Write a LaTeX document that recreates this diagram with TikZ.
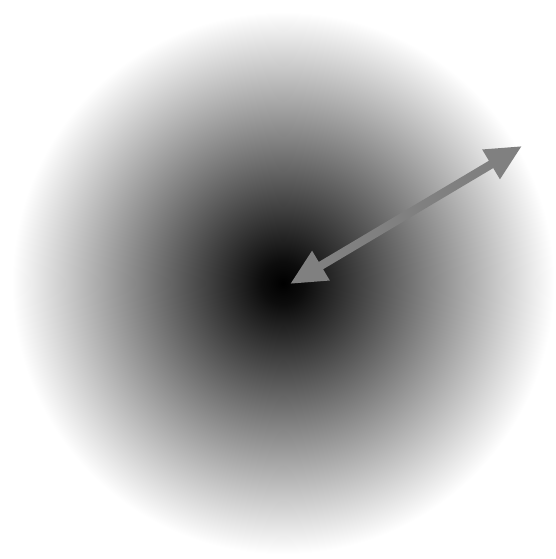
\documentclass[tikz,border=0pt]{standalone}
\usepackage{tikz}
\usetikzlibrary{positioning,arrows.meta}
\pgfdeclareradialshading{glow}{\pgfpoint{0bp}{0bp}}{color(0bp)=(black); color(2bp)=(black!95); color(25bp)=(white); color(50bp)=(white)}
\definecolor{arrowgray}{HTML}{808080}

\begin{document}
\begin{tikzpicture}[
    x=1pt, y=-1pt,
    radius arrow/.style={
        draw=arrowgray,
        fill=arrowgray,
        line width=8.5pt,
        {Triangle[length=36pt,width=32pt]}-{Triangle[length=36pt,width=32pt]}
    }
]

% Frame
\useasboundingbox (0,0) rectangle (555,559);

% Gradient disc
\coordinate (centre) at (283,283);
\shade[shading=glow] (centre) circle[radius=271];

% Radius arrow
\coordinate (tip) at (290,284);
\coordinate (rim) at (522,146);
\draw[radius arrow] (tip) -- (rim);

\end{tikzpicture}
\end{document}
